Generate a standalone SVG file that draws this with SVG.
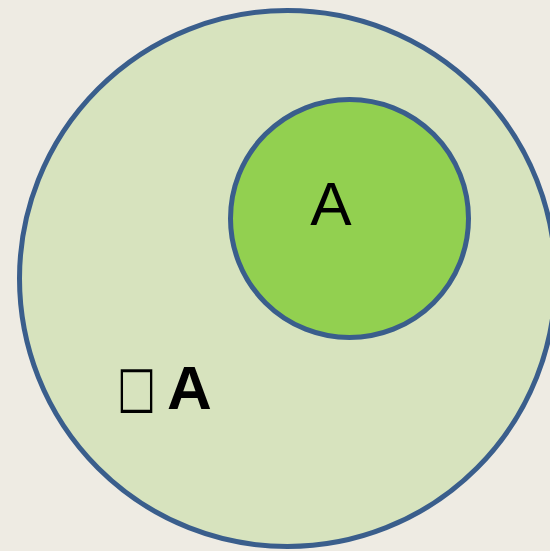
<svg xmlns="http://www.w3.org/2000/svg" width="550" height="551" viewBox="0 0 550 551">
<style>
.c{stroke:#3A5E8C;stroke-width:5}
.t{font-family:"Liberation Sans",Arial,sans-serif;fill:#000}
</style>
<rect width="550" height="551" fill="#EEEBE3"/>
<g id="universe">
<circle class="c" cx="287.5" cy="278.5" r="268" fill="#D7E3BE"/>
<text font-family="'DejaVu Sans',sans-serif" font-size="57" fill="#000" transform="translate(117,406) scale(0.73,1)">□</text>
<text class="t" x="167" y="409" font-size="62" font-weight="bold">A</text>
</g>
<g id="setA">
<circle class="c" cx="349.5" cy="218.5" r="119" fill="#92D050"/>
<text class="t" x="331" y="225" font-size="62" text-anchor="middle">A</text>
</g>
</svg>
